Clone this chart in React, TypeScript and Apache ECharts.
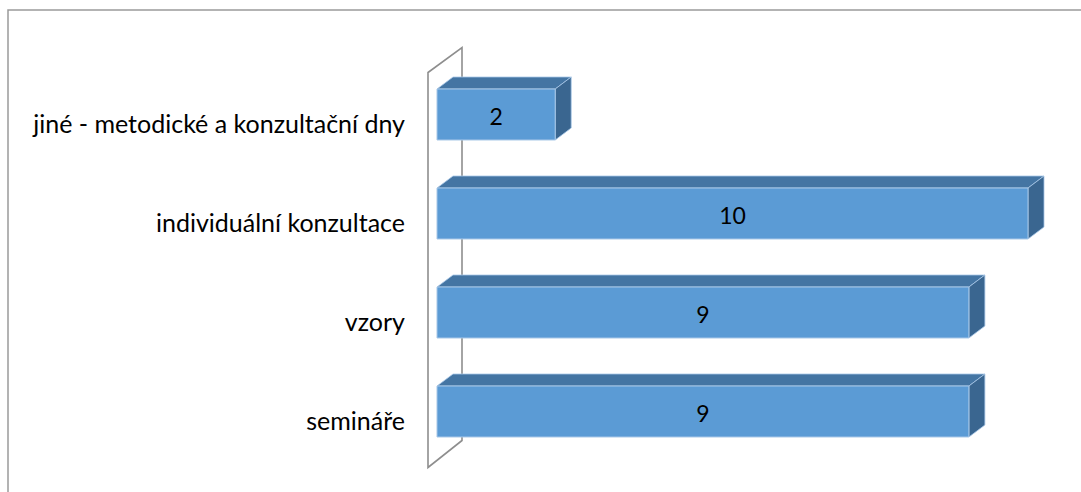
import React, { useEffect, useRef } from "react";
import * as echarts from "echarts";

// Categories (top to bottom) and their counts
const categories = [
  "jiné - metodické a konzultační dny",
  "individuální konzultace",
  "vzory",
  "semináře",
];
const values = [2, 10, 9, 9];

const FRONT = "#5B9BD5";
const TOP = "#4475A3";
const SIDE = "#3A6690";
const EDGE = "#A7C7E7";
const FONT = 'Lato, "Open Sans", sans-serif';

export default function App() {
  const ref = useRef<HTMLDivElement>(null);

  useEffect(() => {
    if (!ref.current) return;
    const chart = echarts.init(ref.current, undefined, { renderer: "svg" });

    // Back wall outline drawn relative to the grid rectangle
    const renderWall = (params: any, api: any) => {
      const cs = params.coordSys;
      const x = cs.x;
      const y = cs.y;
      const h = cs.height;
      return {
        type: "polygon",
        shape: {
          points: [
            [x - 9, y + h - 2],
            [x - 9, y - 1],
            [x + 25, y - 26],
            [x + 25, y + h - 29],
          ],
        },
        style: { fill: "none", stroke: "#8E8E8E", lineWidth: 1.6 },
        silent: true,
      };
    };

    // 3D-looking horizontal bar: front face, top face and right side face
    const renderBar = (params: any, api: any) => {
      const idx = api.value(0);
      const val = api.value(1);
      const p0 = api.coord([0, idx]);
      const p1 = api.coord([val, idx]);
      const band = api.size([0, 1])[1];
      const barH = band * 0.515;
      const dx = 16;
      const dy = 12;
      const cy = p0[1] - 8.5;
      const top = cy - barH / 2;
      const bottom = cy + barH / 2;
      const x0 = p0[0];
      const x1 = p1[0];
      return {
        type: "group",
        children: [
          {
            type: "polygon",
            shape: {
              points: [
                [x0, top],
                [x0 + dx, top - dy],
                [x1 + dx, top - dy],
                [x1, top],
              ],
            },
            style: { fill: TOP, stroke: EDGE, lineWidth: 0.8 },
          },
          {
            type: "polygon",
            shape: {
              points: [
                [x1, top],
                [x1 + dx, top - dy],
                [x1 + dx, bottom - dy],
                [x1, bottom],
              ],
            },
            style: { fill: SIDE, stroke: EDGE, lineWidth: 0.8 },
          },
          {
            type: "rect",
            shape: { x: x0, y: top, width: x1 - x0, height: barH },
            style: { fill: FRONT, stroke: EDGE, lineWidth: 1 },
          },
          {
            type: "text",
            style: {
              text: String(val),
              x: (x0 + x1) / 2,
              y: cy + 1,
              align: "center",
              verticalAlign: "middle",
              fill: "#000",
              font: `23px ${FONT}`,
            },
          },
        ],
      };
    };

    chart.setOption({
      animation: false,
      backgroundColor: "#fff",
      grid: { left: 437, top: 73.5, width: 591, height: 396 },
      xAxis: {
        type: "value",
        min: 0,
        max: 10,
        show: false,
      },
      yAxis: {
        type: "category",
        data: categories,
        inverse: true,
        axisLine: { show: false },
        axisTick: { show: false },
        axisLabel: {
          margin: 32,
          color: "#000",
          fontSize: 25,
          fontFamily: FONT,
        },
      },
      graphic: [
        {
          type: "polyline",
          shape: { points: [[8, 492], [8, 10], [1081, 10]] },
          style: { fill: "none", stroke: "#9A9A9A", lineWidth: 1.5 },
          silent: true,
        },
      ],
      series: [
        {
          type: "custom",
          renderItem: renderWall,
          data: [[0, 0]],
          silent: true,
          z: 1,
        },
        {
          type: "custom",
          renderItem: renderBar,
          data: values.map((v, i) => [i, v]),
          encode: { x: 1, y: 0 },
          z: 2,
        },
      ],
    });

    return () => chart.dispose();
  }, []);

  return (
    <div
      ref={ref}
      style={{ position: "fixed", left: 0, top: 0, width: 1081, height: 492 }}
    />
  );
}
